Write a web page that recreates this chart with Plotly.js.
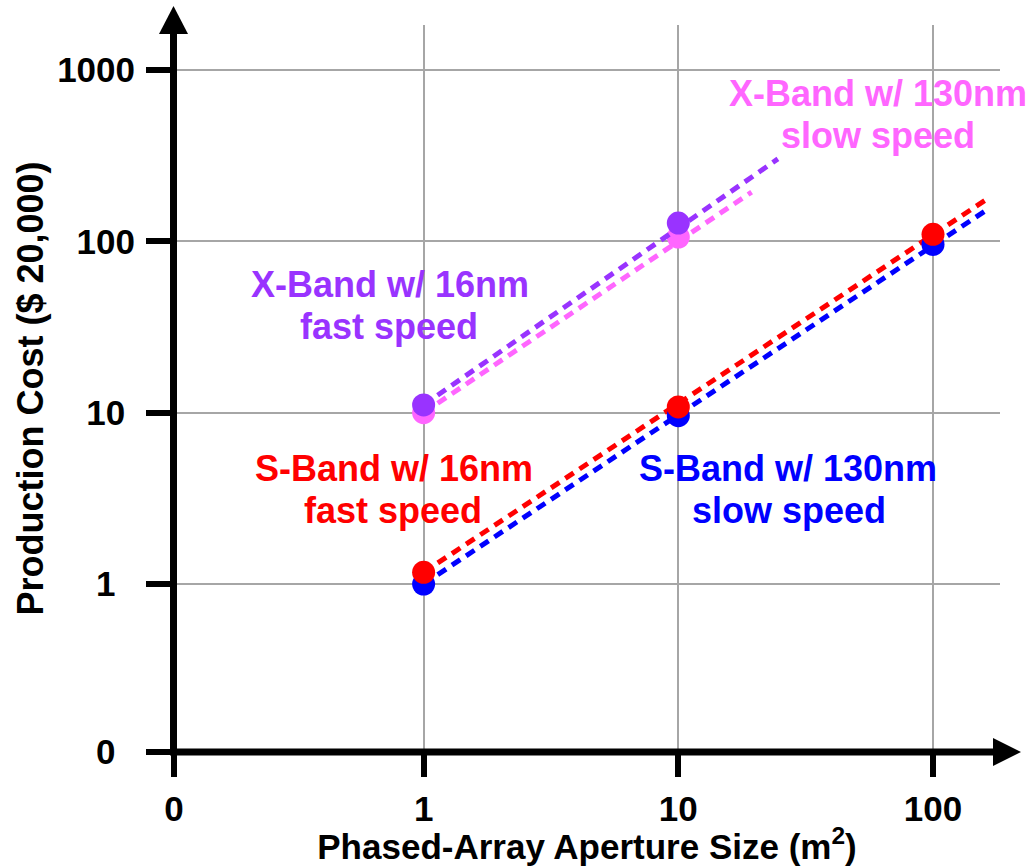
<!DOCTYPE html>
<html>
<head>
<meta charset="utf-8">
<script src="https://cdn.plot.ly/plotly-3.0.1.min.js"></script>
<style>html,body{margin:0;padding:0;background:#fff;}#chart{width:1029px;height:866px;}</style>
</head>
<body>
<div id="chart"></div>
<script>
// ---------- data ----------
const apertureSizes = [1, 10, 100];
const sBand130nm = [1.0, 9.6, 96];
const sBand16nm = [1.17, 10.8, 110];
const xBandApertures = [1, 10];
const xBand130nm = [10, 106];
const xBand16nm = [11.1, 128];

// dashed trend lines (start / end values)
const sBand130TrendX = [1, 165];
const sBand130TrendY = [1.0, 155];
const sBand16TrendX = [1, 165];
const sBand16TrendY = [1.17, 179];
const xBand130TrendX = [1, 19.4];
const xBand130TrendY = [10, 194];
const xBand16TrendX = [1, 24.6];
const xBand16TrendY = [11.1, 303];

// axis ticks ("0" sits at the bottom/left end of each log axis)
const xTickVals = [0.1047, 1, 10, 100];
const xTickText = ['0', '1', '10', '100'];
const yTickVals = [0.1046, 1, 10, 100, 1000];
const yTickText = ['0', '1', '10', '100', '1000'];

// series labels (two lines each)
const labelLines = [
  ['X-Band w/ 130nm', 'slow speed'],
  ['X-Band w/ 16nm', 'fast speed'],
  ['S-Band w/ 16nm', 'fast speed'],
  ['S-Band w/ 130nm', 'slow speed']
];

// ---------- layout geometry ----------
const L = 174, T = 25, W = 826, H = 727;
const px = v => (v - L) / W;
const py = v => (T + H - v) / H;
const FONT = 'Liberation Sans, Arial, sans-serif';

const yPad = [2, 2, 1, 0, 0];
const yTickTextPadded = yTickText.map((t, i) => t + '\u00A0'.repeat(yPad[i]));

const C = {blue: '#0000FF', red: '#FF0000', pink: '#FF66FF', purple: '#9933FF'};
const labelColors = [C.pink, C.purple, C.red, C.blue];
const dash = '10px,7px';

function lineTrace(x, y, color) {
  return {x: x, y: y, mode: 'lines', type: 'scatter', showlegend: false, hoverinfo: 'skip',
    line: {color: color, width: 5, dash: dash}};
}
function pointTrace(x, y, color, name) {
  return {x: x, y: y, mode: 'markers', type: 'scatter', name: name, showlegend: false,
    marker: {color: color, size: 23}};
}

const data = [
  lineTrace(xBand130TrendX, xBand130TrendY, C.pink),
  pointTrace(xBandApertures, xBand130nm, C.pink, 'X-Band w/ 130nm'),
  lineTrace(xBand16TrendX, xBand16TrendY, C.purple),
  pointTrace(xBandApertures, xBand16nm, C.purple, 'X-Band w/ 16nm'),
  lineTrace(sBand130TrendX, sBand130TrendY, C.blue),
  lineTrace(sBand16TrendX, sBand16TrendY, C.red),
  pointTrace(apertureSizes, sBand130nm, C.blue, 'S-Band w/ 130nm'),
  pointTrace(apertureSizes, sBand16nm, C.red, 'S-Band w/ 16nm')
];

// pixel centres of each label line: [[x1,y1],[x2,y2]]
const labelPos = [
  [[878, 93], [878, 135]],
  [[390, 284], [389, 326]],
  [[394, 468], [393, 510]],
  [[788, 468], [789, 510]]
];
const annotations = [];
labelLines.forEach((lines, i) => {
  lines.forEach((t, j) => {
    annotations.push({
      xref: 'paper', yref: 'paper', x: px(labelPos[i][j][0]), y: py(labelPos[i][j][1]),
      xanchor: 'center', yanchor: 'middle', showarrow: false, align: 'center',
      text: t, font: {family: FONT, size: 36, color: labelColors[i], weight: 'bold'}
    });
  });
});

const shapes = [
  // y axis line + arrow
  {type: 'line', xref: 'paper', yref: 'paper', x0: px(173.5), x1: px(173.5), y0: py(755), y1: py(30),
    line: {color: '#000', width: 7}},
  {type: 'path', xref: 'paper', yref: 'paper', fillcolor: '#000', line: {width: 0},
    path: `M ${px(159)} ${py(34)} L ${px(173.5)} ${py(6)} L ${px(188)} ${py(34)} Z`},
  // x axis line + arrow
  {type: 'line', xref: 'paper', yref: 'paper', x0: px(170), x1: px(996), y0: py(752), y1: py(752),
    line: {color: '#000', width: 7}},
  {type: 'path', xref: 'paper', yref: 'paper', fillcolor: '#000', line: {width: 0},
    path: `M ${px(993)} ${py(738)} L ${px(1021)} ${py(752)} L ${px(993)} ${py(766)} Z`}
];

const tickFont = {family: FONT, size: 35, color: '#000', weight: 'bold'};
const titleFont = {family: FONT, size: 35, color: '#000', weight: 'bold'};
const yTitleFont = {family: FONT, size: 36, color: '#000', weight: 'bold'};

const layout = {
  width: 1029, height: 866,
  margin: {l: L, r: 1029 - L - W, t: T, b: 866 - T - H, pad: 0},
  paper_bgcolor: '#fff', plot_bgcolor: '#fff',
  xaxis: {
    type: 'log', range: [Math.log10(xTickVals[0]), 2.263], autorange: false,
    tickmode: 'array', tickvals: xTickVals, ticktext: xTickText,
    ticks: 'outside', ticklen: 24, tickwidth: 6, tickcolor: '#000',
    showgrid: true, gridcolor: '#A6A6A6', gridwidth: 2, zeroline: false, showline: false,
    tickfont: tickFont, ticklabelstandoff: 2,
    title: {text: 'Phased-Array Aperture Size (m<sup>2</sup>)', font: titleFont, standoff: 9}
  },
  yaxis: {
    type: 'log', range: [Math.log10(yTickVals[0]), 3.263], autorange: false,
    tickmode: 'array', tickvals: yTickVals, ticktext: yTickTextPadded,
    ticks: 'outside', ticklen: 27, tickwidth: 6, tickcolor: '#000',
    showgrid: true, gridcolor: '#A6A6A6', gridwidth: 2, zeroline: false, showline: false,
    tickfont: tickFont, ticklabelstandoff: 4,
    title: {text: 'Production Cost ($ 20,000)', font: yTitleFont, standoff: 2}
  },
  annotations: annotations,
  shapes: shapes,
  showlegend: false
};

Plotly.newPlot('chart', data, layout, {displayModeBar: false, staticPlot: true});
</script>
</body>
</html>
